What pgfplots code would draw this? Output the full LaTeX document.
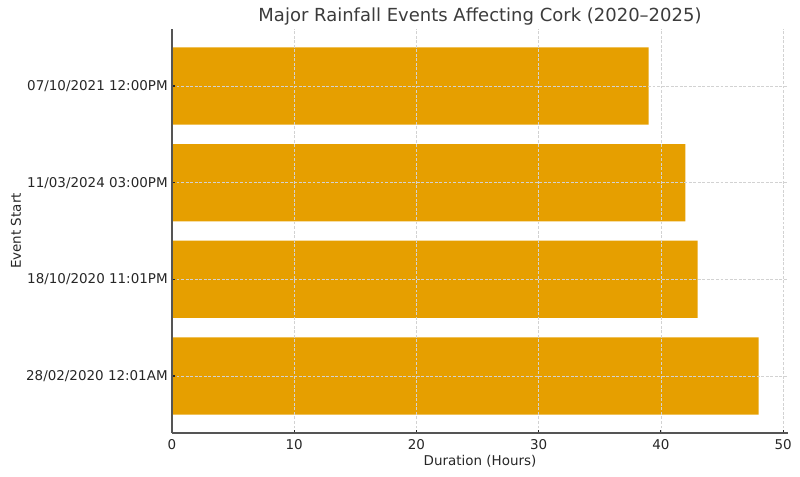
\documentclass[border=0pt]{standalone}
\usepackage{pgfplots}
\pgfplotsset{compat=1.18}
\usepackage{fontspec}
\setmainfont{DejaVu Sans}
\definecolor{barc}{HTML}{E69F00}
\definecolor{txt}{HTML}{262626}
\definecolor{spine}{HTML}{555555}
\definecolor{gridc}{HTML}{D2D2D2}
\begin{document}
\begin{tikzpicture}
\path[use as bounding box] (-129pt,-33pt) rectangle (471pt,324.75pt);
\begin{axis}[
  at={(0,0)}, anchor=south west,
  scale only axis, width=462pt, height=303pt,
  xbar, bar width=0.8, bar shift=0pt,
  xmin=0, xmax=50.4, ymin=-0.59, ymax=3.59,
  ytick={0,1,2,3},
  yticklabels={28/02/2020 12:01AM,18/10/2020 11:01PM,11/03/2024 03:00PM,07/10/2021 12:00PM},
  xtick={0,10,20,30,40,50},
  axis x line*=bottom, axis y line*=left,
  axis line style={spine, line width=0.9pt},
  tick align=inside, major tick length=2.6pt,
  tick style={txt, line width=0.8pt},
  grid=major,
  major grid style={dash pattern=on 2.2pt off 1.2pt, gridc, line width=0.55pt},
  axis on top,
  ticklabel style={font=\fontsize{10.1}{12}\selectfont, text=txt},
  yticklabel style={xshift=0.3pt},
  xticklabel style={yshift=-1pt},
  /pgf/number format/assume math mode=true,
  xlabel={Duration (Hours)}, ylabel={Event Start},
  label style={font=\fontsize{10.1}{12}\selectfont, text=txt},
  title={Major Rainfall Events Affecting Cork (2020–2025)},
  title style={font=\fontsize{13.5}{16}\selectfont, text=txt!90, yshift=-7pt},
  xlabel style={yshift=2pt},
  ylabel style={yshift=-3pt},
]
\addplot[fill=barc, draw=none] coordinates {(48,0) (43,1) (42,2) (39,3)};
\end{axis}
\end{tikzpicture}
\end{document}
